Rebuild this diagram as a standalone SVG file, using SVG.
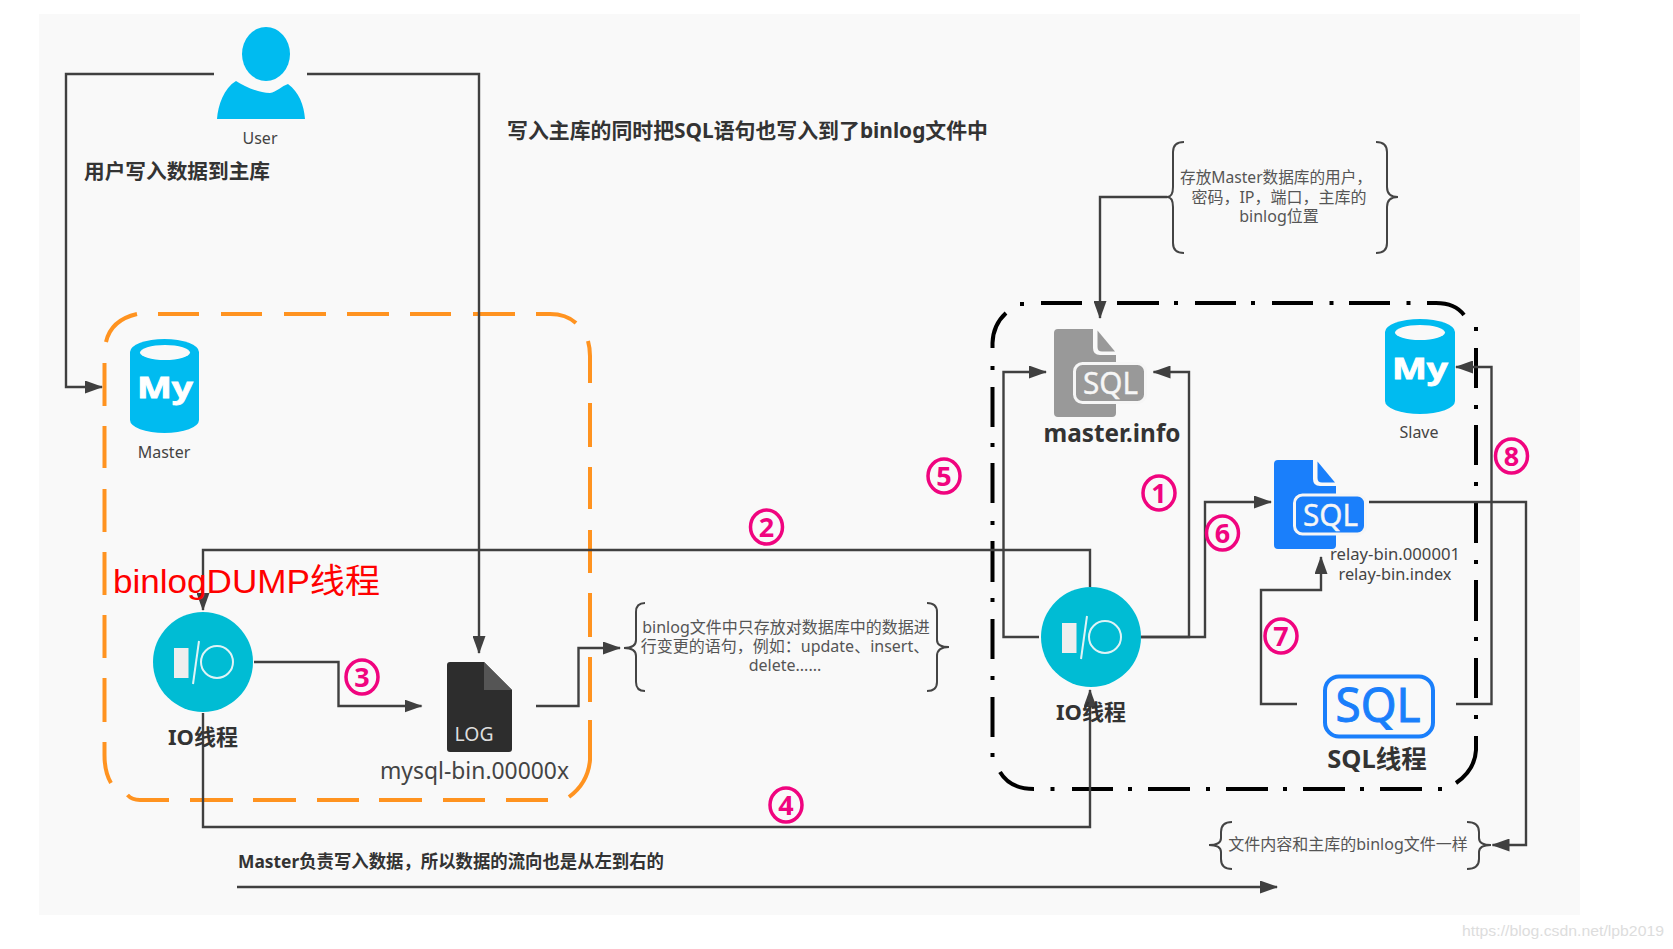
<svg xmlns="http://www.w3.org/2000/svg" width="1673" height="949" viewBox="0 0 1673 949">
<style>
text{font-family:"Noto Sans","Noto Sans CJK SC",sans-serif;fill:#444}
.m{text-anchor:middle}
.b{font-weight:700;fill:#333}
.s16{font-size:16px}
.note{font-size:16px;fill:#555;text-anchor:middle}
.c{fill:none;stroke:#404040;stroke-width:2.4;marker-end:url(#a)}
.brace{fill:none;stroke:#444;stroke-width:2}
.ring{fill:none;stroke:#f0047f;stroke-width:3.5}
.num{font-size:27px;font-weight:700;fill:#f0047f;text-anchor:middle}
.cyl{fill:#00bbf0}
.my{font-weight:700;font-size:28px;fill:#fff;stroke:#fff;stroke-width:.8;text-anchor:middle}
.io{fill:#00bcd4}
.iol{fill:none;stroke:#dff3f6;stroke-width:2}
.sqlt{font-size:30px;fill:#f6f6f6;text-anchor:middle;stroke:#f6f6f6;stroke-width:.4}
</style>
<defs>
<marker id="a" markerUnits="userSpaceOnUse" markerWidth="18" markerHeight="13" refX="17" refY="6.500" orient="auto"><path d="M0 0L18 6.500L0 13Z" fill="#404040"/></marker>
</defs>
<rect width="1673" height="949" fill="#fff"/>
<rect x="39" y="14" width="1541" height="901" fill="#f9f9f9"/>

<g id="master-box"><path fill="none" stroke="#ff9320" stroke-width="4" d="M106 342Q111 320 137 314M158 314H199M221 314H262M284 314H326M347 314H389M410 314H451M473 314H515M536 314H550Q566 314 576 323M588 341Q590 348 590 356V383M590 403V447M590 467V509M590 530V573M590 593V637M590 657V702M590 720V760Q588 783 569 797M548 800H506M485 800H443M422 800H379M359 800H317M296 800H253M233 800H190M169 800H140Q132 800 127.500 795M111 783Q104.500 772 104.500 755V742M104.500 722V678M104.500 658V615M104.500 595V552M104.500 532V489M104.500 468V426M104.500 406V363"/></g>
<g id="slave-box"><path fill="none" stroke="#000" stroke-width="4" d="M992.500 348V343Q993 325 1006 313M1020 304H1024M1041 303H1082M1097 303H1101M1117 303H1159M1174 303H1178M1195 303H1236M1251 303H1255M1272 303H1313M1329.500 303H1333.500M1349 303H1390M1406.500 303H1410.500M1427 303H1436Q1455 303 1464 315M1476 327V331M1476 348V388M1476 405V409M1476 425V465M1476 482V486M1476 502V543M1476 560V564M1476 580V621M1476 637V641M1476 658V698M1476 715V719M1476 736V750Q1475 770 1456 783M1442 789H1438M1422 789H1380M1364 789H1360M1345 789H1303M1287 789H1283M1268 789H1226M1210 789H1206M1190 789H1148M1132 789H1128M1113 789H1072M1054.500 789H1050.500M1034 789Q1010 789 1000 772M992.500 757V753M992.500 737V697M992.500 680V676M992.500 659V619M992.500 602V598M992.500 582V541M992.500 525V521M992.500 503V463M992.500 447V443M992.500 427V387M992.500 370V366"/></g>

<g id="user"><ellipse cx="266" cy="54" rx="24" ry="27" fill="#00bbf0"/><path d="M217 119C218 105 224 88 236 81C244 86 258 93 270 93C276 92 282 86 288 84C299 92 304 105 305 119Z" fill="#00bbf0"/><text x="260" y="144" class="m s16">User</text></g>
<g id="note-user"><text x="84" y="178.500" class="b" font-size="20.500" textLength="186" lengthAdjust="spacingAndGlyphs">用户写入数据到主库</text></g>
<g id="note-binlog"><text x="507" y="138" class="b" font-size="21" textLength="481" lengthAdjust="spacingAndGlyphs">写入主库的同时把SQL语句也写入到了binlog文件中</text></g>

<g id="master-db"><path class="cyl" d="M130 352A34.500 13 0 0 1 199 352V420A34.500 13 0 0 1 130 420Z"/><ellipse cx="165" cy="352.500" rx="25" ry="7.500" fill="#f9f9f9"/><text x="165" y="398" class="my" textLength="56" lengthAdjust="spacingAndGlyphs">My</text><text x="164" y="458" class="m s16">Master</text></g>

<g id="slave-db"><path class="cyl" d="M1385 332A35 13 0 0 1 1455 332V401A35 13 0 0 1 1385 401Z"/><ellipse cx="1420" cy="332.500" rx="25" ry="7.500" fill="#f9f9f9"/><text x="1420" y="379" class="my" textLength="56" lengthAdjust="spacingAndGlyphs">My</text><text x="1419" y="438" class="m s16">Slave</text></g>

<g id="connectors">
<path class="c" d="M214 74H66V387H102"/>
<path class="c" d="M307 74H479V653"/>
<path class="c" d="M1090 587V550H203V610"/>
<path class="c" d="M203 713V827H1090V690"/>
<path class="c" d="M254 662H338.500V706H421.500"/>
<path class="c" d="M536 706H578.500V648H620"/>
<path class="c" d="M1167 197H1100V318"/>
<path class="c" d="M1039 637H1003.500V372H1046"/>
<path class="c" d="M1141 637H1189V372H1153.500"/>
<path class="c" d="M1141 637H1205V502H1271"/>
<path class="c" d="M1369 502H1526V845H1492.500"/>
<path class="c" d="M1297 704H1261V590H1321V557"/>
<path class="c" d="M1456 704H1491.500V367H1456"/>
<path class="c" d="M237 887H1277"/>
</g>

<g id="io-master"><circle class="io" cx="203" cy="662" r="50"/><rect x="174" y="648" width="14.500" height="30" fill="#eee"/><path class="iol" d="M199 641L193 684"/><circle class="iol" cx="217" cy="662" r="16"/><text x="203" y="745" class="m b" font-size="22">IO线程</text></g>
<g id="io-slave"><circle class="io" cx="1091" cy="637" r="50"/><rect x="1062" y="623" width="14.500" height="30" fill="#eee"/><path class="iol" d="M1087 616L1081 659"/><circle class="iol" cx="1105" cy="637" r="16"/><text x="1091" y="720" class="m b" font-size="22">IO线程</text></g>

<g id="binlog-dump"><text x="113" y="593" font-size="34" style="font-family:'Liberation Sans','Noto Sans CJK SC',sans-serif;fill:#f00" textLength="267" lengthAdjust="spacingAndGlyphs">binlogDUMP线程</text></g>

<g id="log-file"><path d="M450 662H484L512 690V749Q512 752 509 752H450Q447 752 447 749V665Q447 662 450 662Z" fill="#2d2d2d"/><path d="M484 662L512 690H484Z" fill="#555"/><text x="474" y="741" font-size="20" class="m" style="fill:#ddd" textLength="39" lengthAdjust="spacingAndGlyphs">LOG</text><text x="380" y="779" font-size="23" textLength="189" lengthAdjust="spacingAndGlyphs">mysql-bin.00000x</text></g>

<g id="note-dml"><path class="brace" d="M645 603Q636 603 636 612V640Q636 648 624 648Q636 648 636 656V682Q636 691 645 691"/><path class="brace" d="M927 603Q937 603 937 612V640Q937 647 949 647Q937 647 937 656V682Q937 691 927 691"/><text x="786" y="633" class="note">binlog文件中只存放对数据库中的数据进</text><text x="785" y="652" class="note">行变更的语句，例如：update、insert、</text><text x="785" y="671" class="note">delete......</text></g>

<g id="note-master-info"><path class="brace" d="M1184 142Q1173 142 1173 152V187Q1173 197 1167 197Q1173 197 1173 207V243Q1173 253 1184 253"/><path class="brace" d="M1376 142Q1387 142 1387 152V187Q1387 197 1398 197Q1387 197 1387 207V243Q1387 253 1376 253"/><text x="1276" y="183" class="note" textLength="192" lengthAdjust="spacingAndGlyphs">存放Master数据库的用户，</text><text x="1279" y="203" class="note">密码，IP，端口，主库的</text><text x="1279" y="222" class="note">binlog位置</text></g>

<g id="master-info"><path d="M1058 329H1093V348Q1093 355 1100 355H1116V413Q1116 417 1112 417H1058Q1054 417 1054 413V333Q1054 329 1058 329Z" fill="#999"/><path d="M1097.500 330.500L1115 351.500H1102Q1097.500 351.500 1097.500 347Z" fill="#999"/><rect x="1074.500" y="363.500" width="71" height="39" rx="8" fill="#999" stroke="#f6f6f6" stroke-width="3"/><text x="1110.500" y="394" class="sqlt" textLength="55" lengthAdjust="spacingAndGlyphs">SQL</text><text x="1043.500" y="442" font-size="25" class="b" textLength="137" lengthAdjust="spacingAndGlyphs">master.info</text></g>

<g id="relay-log"><path d="M1278 460H1313V479Q1313 486 1320 486H1336V545Q1336 549 1332 549H1278Q1274 549 1274 545V464Q1274 460 1278 460Z" fill="#1a7ffb"/><path d="M1317.500 461.500L1335 482.500H1322Q1317.500 482.500 1317.500 478Z" fill="#1a7ffb"/><rect x="1294.500" y="495" width="71" height="39" rx="8" fill="#1a7ffb" stroke="#f6f6f6" stroke-width="3"/><text x="1330.500" y="525.500" class="sqlt" textLength="55" lengthAdjust="spacingAndGlyphs">SQL</text><text x="1395" y="560" font-size="17" class="m" textLength="130" lengthAdjust="spacingAndGlyphs">relay-bin.000001</text><text x="1395" y="580" font-size="17" class="m" textLength="113" lengthAdjust="spacingAndGlyphs">relay-bin.index</text></g>

<g id="sql-thread"><rect x="1325" y="676.500" width="108" height="60" rx="14" fill="none" stroke="#1a7ffb" stroke-width="4"/><text x="1378" y="722" font-size="48" class="m" style="fill:#1a7ffb;stroke:#1a7ffb;stroke-width:1" textLength="85" lengthAdjust="spacingAndGlyphs">SQL</text><text x="1377" y="768" font-size="25.500" class="m b">SQL线程</text></g>

<g id="note-relay"><path class="brace" d="M1232 822Q1221 822 1221 832V838Q1221 845 1209 845Q1221 845 1221 852V859Q1221 869 1232 869"/><path class="brace" d="M1467 822Q1479 822 1479 832V838Q1479 845 1491 845Q1479 845 1479 852V859Q1479 869 1467 869"/><text x="1348" y="850" class="note">文件内容和主库的binlog文件一样</text></g>

<g id="note-direction"><text x="238" y="868" class="b" font-size="18" textLength="426" lengthAdjust="spacingAndGlyphs">Master负责写入数据，所以数据的流向也是从左到右的</text></g>

<g id="step-1"><ellipse class="ring" cx="1159" cy="493" rx="16" ry="17"/><text class="num" x="1159" y="502.500">1</text></g>
<g id="step-2"><ellipse class="ring" cx="766.500" cy="527" rx="16" ry="17"/><text class="num" x="766.500" y="536.500">2</text></g>
<g id="step-3"><ellipse class="ring" cx="362" cy="677" rx="16" ry="17"/><text class="num" x="362" y="686.500">3</text></g>
<g id="step-4"><ellipse class="ring" cx="786" cy="805" rx="16" ry="17"/><text class="num" x="786" y="814.500">4</text></g>
<g id="step-5"><ellipse class="ring" cx="944" cy="476" rx="16" ry="17"/><text class="num" x="944" y="485.500">5</text></g>
<g id="step-6"><ellipse class="ring" cx="1222.500" cy="533" rx="16" ry="17"/><text class="num" x="1222.500" y="542.500">6</text></g>
<g id="step-7"><ellipse class="ring" cx="1281" cy="636" rx="16" ry="17"/><text class="num" x="1281" y="645.500">7</text></g>
<g id="step-8"><ellipse class="ring" cx="1511.500" cy="456" rx="16" ry="17"/><text class="num" x="1511.500" y="465.500">8</text></g>

<g id="watermark"><text x="1462" y="936" font-size="15" style="font-family:'Liberation Sans',sans-serif;fill:#ddd" textLength="202" lengthAdjust="spacingAndGlyphs">https://blog.csdn.net/lpb2019</text></g>
</svg>
